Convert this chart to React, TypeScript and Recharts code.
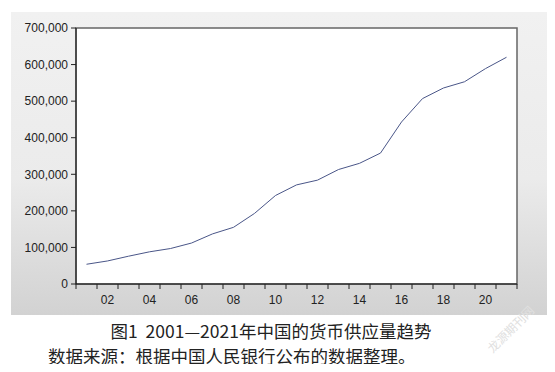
import React from 'react';
import { LineChart, Line, XAxis, YAxis, ReferenceArea } from 'recharts';

const years = [2001, 2002, 2003, 2004, 2005, 2006, 2007, 2008, 2009, 2010, 2011, 2012, 2013, 2014, 2015, 2016, 2017, 2018, 2019, 2020, 2021];
const supply = [54000, 63000, 76000, 88000, 97000, 112000, 137000, 155000, 193000, 242000, 271000, 284000, 313000, 330000, 358000, 443000, 507000, 536000, 553000, 589000, 620000];
const yTicks = [0, 100000, 200000, 300000, 400000, 500000, 600000, 700000];
const labelYears = [2002, 2004, 2006, 2008, 2010, 2012, 2014, 2016, 2018, 2020];

const data = years.map((y, i) => ({ year: y, value: supply[i] }));
// tick marks at year boundaries, labels at the middle of each year
const xTicks = [years[0] - 0.5, ...years.flatMap((y) => [y, y + 0.5])];

const XTick = (props: any) => {
  const { x, y, payload } = props;
  const v = payload.value;
  if (v % 1 !== 0) {
    return <line x1={x} y1={y} x2={x} y2={y + 5} stroke="#222" strokeWidth={1} />;
  }
  if (!labelYears.includes(v)) return <g />;
  return (
    <text x={x} y={y + 20} textAnchor="middle" fontSize={12} fill="#222" fontFamily="Liberation Sans, Arial, sans-serif">
      {String(v).slice(2)}
    </text>
  );
};

export default function App() {
  return (
    <div style={{ position: 'relative', width: 555, height: 372, margin: -8, background: '#fff', overflow: 'hidden' }}>
      <div style={{ position: 'absolute', left: 11, top: 12, width: 537, height: 303, background: 'linear-gradient(#f1f1f1, #ebebeb 55%, #d2d2d2)' }}>
        <LineChart width={537} height={303} data={data} margin={{ top: 16, right: 31, bottom: 0, left: 0 }}>
          <XAxis
            dataKey="year"
            type="number"
            domain={[2000.5, 2021.5]}
            ticks={xTicks}
            interval={0}
            tickSize={0}
            tickMargin={0}
            tick={<XTick />}
            axisLine={{ stroke: '#111' }}
            tickLine={false}
            height={31}
          />
          <YAxis
            type="number"
            domain={[0, 700000]}
            ticks={yTicks}
            interval={0}
            width={65}
            tickSize={5}
            tickMargin={3}
            tickFormatter={(v: number) => v.toLocaleString('en-US')}
            tick={{ fontSize: 12, fill: '#222', fontFamily: 'Liberation Sans, Arial, sans-serif' }}
            axisLine={{ stroke: '#111' }}
            tickLine={{ stroke: '#222' }}
          />
          <ReferenceArea x1={2000.5} x2={2021.5} y1={0} y2={700000} fill="#fff" fillOpacity={1} stroke="#666" strokeWidth={1.5} ifOverflow="visible" />
          <Line type="linear" dataKey="value" stroke="#4a5688" strokeWidth={1} dot={false} isAnimationActive={false} />
        </LineChart>
      </div>
      <div style={{ position: 'absolute', left: 6, width: 530, top: 319, textAlign: 'center', fontSize: 17.5, color: '#222', fontFamily: '"Noto Sans CJK SC", sans-serif', lineHeight: '24px' }}>
        图1&nbsp;&nbsp;2001—2021年中国的货币供应量趋势
      </div>
      <div style={{ position: 'absolute', left: 48, top: 344, fontSize: 17.5, color: '#222', fontFamily: '"Noto Sans CJK SC", sans-serif', lineHeight: '24px', whiteSpace: 'nowrap' }}>
        数据来源：根据中国人民银行公布的数据整理。
      </div>
      <div style={{ position: 'absolute', left: 480, top: 320, fontSize: 12, color: '#e0e0e0', fontFamily: '"Noto Sans CJK SC", sans-serif', transform: 'rotate(-45deg)', whiteSpace: 'nowrap' }}>
        龙源期刊网
      </div>
    </div>
  );
}
